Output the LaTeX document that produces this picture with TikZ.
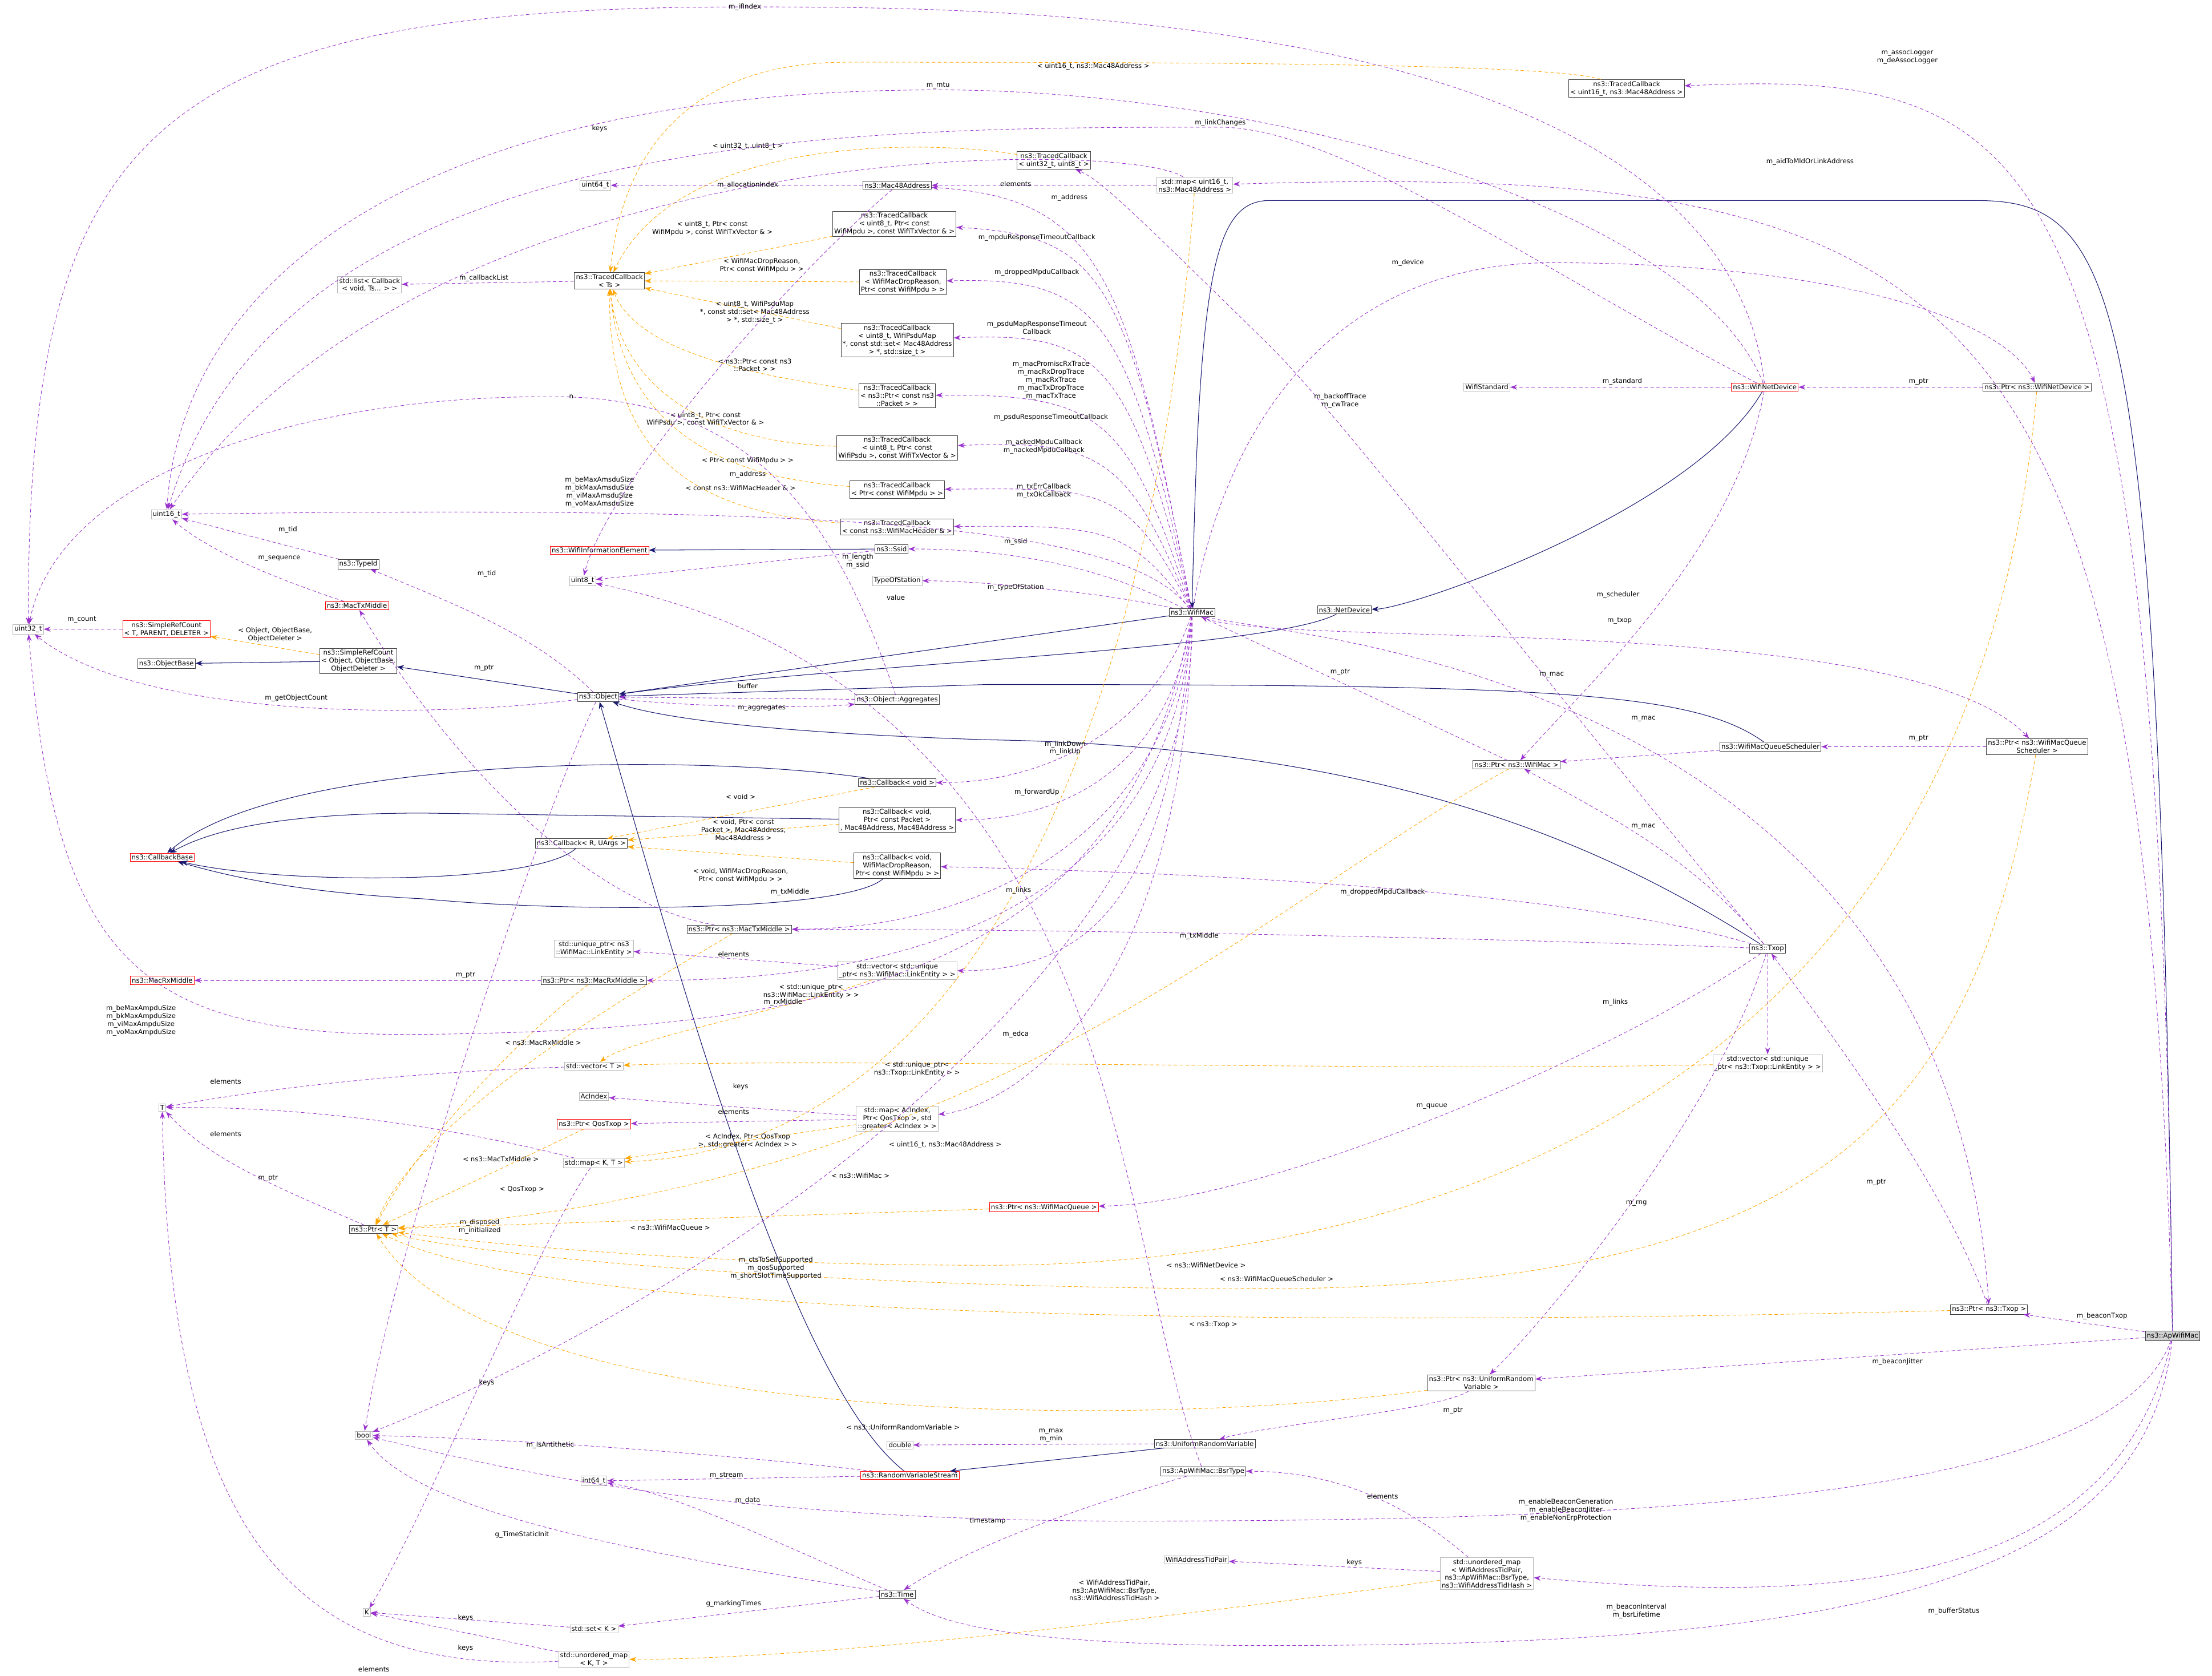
\documentclass[tikz,border=0pt]{standalone}
\usepackage{fontspec}
\setmainfont{DejaVu Sans}
\usetikzlibrary{arrows.meta}
\definecolor{pu}{RGB}{154,50,205}
\definecolor{mb}{RGB}{25,25,112}
\definecolor{or}{RGB}{255,165,0}
\tikzset{
 bx/.style={draw=black!75,fill=white,line width=1pt,inner sep=3pt,align=center,font=\fontsize{13.5}{16}\selectfont},
 gx/.style={bx,draw=gray!55},
 rx/.style={bx,draw=red},
 ax/.style={bx,fill=gray!35},
 lab/.style={font=\fontsize{13.5}{16}\selectfont,align=center,inner sep=1pt},
 u/.style={draw=pu,line width=1pt,dash pattern=on 7pt off 5pt,-{Stealth[length=14pt,width=10pt]}},
 o/.style={draw=or,line width=1pt,dash pattern=on 7pt off 5pt,-{Stealth[length=14pt,width=10pt]}},
 ih/.style={draw=mb,line width=1.2pt,-{Stealth[length=14pt,width=11pt]}},
}
\begin{document}
\begin{tikzpicture}[x=0.1cm,y=-0.098cm]
\useasboundingbox (0,0) rectangle (1568,1212);
% nodes
\node[gx] (u32) at (20,455) {uint32\_t};
\node[gx] (u16) at (118,372) {uint16\_t};
\node[gx] (u64) at (422,134) {uint64\_t};
\node[gx] (lst) at (262,206) {std::list< Callback\\< void, Ts... > >};
\node[bx] (tcts) at (432,203) {ns3::TracedCallback\\< Ts >};
\node[bx] (mac48) at (636,134) {ns3::Mac48Address};
\node[bx] (tc32) at (747,116) {ns3::TracedCallback\\< uint32\_t, uint8\_t >};
\node[gx] (m16) at (847,134) {std::map< uint16\_t,\\ ns3::Mac48Address >};
\node[bx] (tc16) at (1153,64) {ns3::TracedCallback\\< uint16\_t, ns3::Mac48Address >};
\node[bx] (tca) at (634,162) {ns3::TracedCallback\\< uint8\_t, Ptr< const\\ WifiMpdu >, const WifiTxVector \& >};
\node[bx] (tcb) at (640,204) {ns3::TracedCallback\\< WifiMacDropReason,\\ Ptr< const WifiMpdu > >};
\node[bx] (tcc) at (636,246) {ns3::TracedCallback\\< uint8\_t, WifiPsduMap\\ *, const std::set< Mac48Address\\ > *, std::size\_t >};
\node[bx] (tcd) at (636,286) {ns3::TracedCallback\\< ns3::Ptr< const ns3\\::Packet > >};
\node[bx] (tce) at (636,324) {ns3::TracedCallback\\< uint8\_t, Ptr< const\\ WifiPsdu >, const WifiTxVector \& >};
\node[bx] (tcf) at (636,354) {ns3::TracedCallback\\< Ptr< const WifiMpdu > >};
\node[bx] (tcg) at (636,381) {ns3::TracedCallback\\< const ns3::WifiMacHeader \& >};
\node[rx] (wie) at (425,398) {ns3::WifiInformationElement};
\node[bx] (ssid) at (632,397) {ns3::Ssid};
\node[gx] (u8) at (413,420) {uint8\_t};
\node[gx] (tos) at (636,420) {TypeOfStation};
\node[bx] (tid) at (254,408) {ns3::TypeId};
\node[rx] (mtx) at (253,438) {ns3::MacTxMiddle};
\node[rx] (srt) at (118,455) {ns3::SimpleRefCount\\< T, PARENT, DELETER >};
\node[bx] (sro) at (254,478) {ns3::SimpleRefCount\\< Object, ObjectBase,\\ ObjectDeleter >};
\node[bx] (obase) at (118,480) {ns3::ObjectBase};
\node[bx] (obj) at (424,504) {ns3::Object};
\node[bx] (agg) at (636,506) {ns3::Object::Aggregates};
\node[bx] (wmac) at (845,443) {ns3::WifiMac};
\node[bx] (nd) at (953,441) {ns3::NetDevice};
\node[gx] (wstd) at (1054,280) {WifiStandard};
\node[rx] (wnd) at (1251,280) {ns3::WifiNetDevice};
\node[bx] (pwnd) at (1444,280) {ns3::Ptr< ns3::WifiNetDevice >};
\node[bx] (cbv) at (636,566) {ns3::Callback< void >};
\node[rx] (cbb) at (115,620) {ns3::CallbackBase};
\node[bx] (cbr) at (412,610) {ns3::Callback< R, UArgs >};
\node[bx] (cbp) at (636,593) {ns3::Callback< void,\\ Ptr< const Packet >\\, Mac48Address, Mac48Address >};
\node[bx] (cbd) at (636,626) {ns3::Callback< void,\\ WifiMacDropReason,\\ Ptr< const WifiMpdu > >};
\node[bx] (pmtx) at (524,672) {ns3::Ptr< ns3::MacTxMiddle >};
\node[gx] (uple) at (421,686) {std::unique\_ptr< ns3\\::WifiMac::LinkEntity >};
\node[gx] (vle) at (636,702) {std::vector< std::unique\\\_ptr< ns3::WifiMac::LinkEntity > >};
\node[rx] (mrx) at (115,709) {ns3::MacRxMiddle};
\node[bx] (pmrx) at (421,709) {ns3::Ptr< ns3::MacRxMiddle >};
\node[gx] (vt) at (421,771) {std::vector< T >};
\node[gx] (aci) at (421,793) {AcIndex};
\node[gx] (mac) at (636,809) {std::map< AcIndex,\\ Ptr< QosTxop >, std\\::greater< AcIndex > >};
\node[rx] (pqos) at (421,813) {ns3::Ptr< QosTxop >};
\node[gx] (mkt) at (421,841) {std::map< K, T >};
\node[gx] (T) at (115,801) {T};
\node[bx] (pt) at (265,889) {ns3::Ptr< T >};
\node[rx] (pwmq) at (740,873) {ns3::Ptr< ns3::WifiMacQueue >};
\node[bx] (pwm) at (1075,553) {ns3::Ptr< ns3::WifiMac >};
\node[bx] (wmqs) at (1255,540) {ns3::WifiMacQueueScheduler};
\node[bx] (pwmqs) at (1444,540) {ns3::Ptr< ns3::WifiMacQueue\\ Scheduler >};
\node[bx] (txop) at (1253,686) {ns3::Txop};
\node[gx] (vtle) at (1253,769) {std::vector< std::unique\\\_ptr< ns3::Txop::LinkEntity > >};
\node[bx] (ptxop) at (1410,947) {ns3::Ptr< ns3::Txop >};
\node[ax] (ap) at (1540,966) {ns3::ApWifiMac};
\node[bx] (purv) at (1050,1000) {ns3::Ptr< ns3::UniformRandom\\ Variable >};
\node[bx] (urv) at (854,1044) {ns3::UniformRandomVariable};
\node[gx] (dbl) at (638,1045) {double};
\node[gx] (bool) at (258,1038) {bool};
\node[rx] (rvs) at (645,1067) {ns3::RandomVariableStream};
\node[gx] (i64) at (421,1071) {int64\_t};
\node[bx] (bsr) at (853,1064) {ns3::ApWifiMac::BsrType};
\node[bx] (time) at (636,1153) {ns3::Time};
\node[gx] (watp) at (848,1128) {WifiAddressTidPair};
\node[gx] (umw) at (1054,1138) {std::unordered\_map\\< WifiAddressTidPair,\\ ns3::ApWifiMac::BsrType,\\ ns3::WifiAddressTidHash >};
\node[gx] (K) at (260,1166) {K};
\node[gx] (setk) at (421,1178) {std::set< K >};
\node[gx] (umkt) at (421,1200) {std::unordered\_map\\< K, T >};
% inheritance
\draw[ih] (ssid) -- (wie);
\draw[ih] (sro) -- (obase);
\draw[ih] (obj) -- (sro);
\draw[ih] (wmac) -- (obj);
\draw[ih] (nd) .. controls (900,470) and (600,480) .. (obj);
\draw[ih] (wnd) .. controls (1200,370) and (1000,440) .. (nd);
\draw[ih] (ap) .. controls (1530,200) and (1500,145) .. (1400,145) -- (900,145) .. controls (860,145) and (850,200) .. (wmac);
\draw[ih] (wmqs) .. controls (1200,500) and (1100,495) .. (700,495) -- (obj);
\draw[ih] (txop) .. controls (1150,620) and (1000,540) .. (700,535) .. controls (550,530) and (470,520) .. (obj);
\draw[ih] (rvs) .. controls (560,1000) and (480,700) .. (obj);
\draw[ih] (urv) -- (rvs);
\draw[ih] (cbv) .. controls (500,545) and (200,545) .. (cbb);
\draw[ih] (cbp) -- (300,588) .. controls (200,588) and (150,600) .. (cbb);
\draw[ih] (cbr) .. controls (380,640) and (200,640) .. (cbb);
\draw[ih] (cbd) .. controls (600,660) and (400,660) .. (300,650) .. controls (200,645) and (150,630) .. (cbb);
% template instantiations (orange)
\draw[o] (tc16) .. controls (1100,45) and (800,45) .. (600,45) .. controls (480,45) and (440,120) .. (tcts) node[lab] at (775,48) {< uint16\_t, ns3::Mac48Address >};
\draw[o] (tc32) .. controls (650,100) and (480,100) .. (tcts) node[lab] at (530,106) {< uint32\_t, uint8\_t >};
\draw[o] (tca) -- (tcts) node[lab] at (505,165) {< uint8\_t, Ptr< const\\ WifiMpdu >, const WifiTxVector \& >};
\draw[o] (tcb) -- (tcts) node[lab] at (540,192) {< WifiMacDropReason,\\ Ptr< const WifiMpdu > >};
\draw[o] (tcc) -- (tcts) node[lab] at (535,226) {< uint8\_t, WifiPsduMap\\ *, const std::set< Mac48Address\\ > *, std::size\_t >};
\draw[o] (tcd) .. controls (520,270) and (450,250) .. (tcts) node[lab] at (535,264) {< ns3::Ptr< const ns3\\ ::Packet > >};
\draw[o] (tce) .. controls (500,320) and (440,280) .. (tcts) node[lab] at (500,303) {< uint8\_t, Ptr< const\\ WifiPsdu >, const WifiTxVector \& >};
\draw[o] (tcf) .. controls (500,345) and (440,300) .. (tcts) node[lab] at (530,333) {< Ptr< const WifiMpdu > >};
\draw[o] (tcg) .. controls (480,370) and (432,320) .. (tcts) node[lab] at (525,353) {< const ns3::WifiMacHeader \& >};
\draw[o] (sro) -- (srt) node[lab] at (195,459) {< Object, ObjectBase,\\ ObjectDeleter >};
\draw[o] (cbv) -- (cbr) node[lab] at (525,576) {< void >};
\draw[o] (cbp) -- (cbr) node[lab] at (527,600) {< void, Ptr< const\\ Packet >, Mac48Address,\\ Mac48Address >};
\draw[o] (cbd) -- (cbr) node[lab] at (525,633) {< void, WifiMacDropReason,\\ Ptr< const WifiMpdu > >};
\draw[o] (vle) .. controls (560,730) and (450,750) .. (vt) node[lab] at (575,717) {< std::unique\_ptr<\\ ns3::WifiMac::LinkEntity > >};
\draw[o] (vtle) .. controls (1000,775) and (600,765) .. (vt) node[lab] at (650,773) {< std::unique\_ptr<\\ ns3::Txop::LinkEntity > >};
\draw[o] (mac) -- (mkt) node[lab] at (530,825) {< AcIndex, Ptr< QosTxop\\ >, std::greater< AcIndex > >};
\draw[o] (m16) .. controls (820,500) and (700,830) .. (mkt) node[lab] at (670,828) {< uint16\_t, ns3::Mac48Address >};
\draw[o] (umw) .. controls (900,1160) and (600,1200) .. (umkt) node[lab] at (790,1150) {< WifiAddressTidPair,\\ ns3::ApWifiMac::BsrType,\\ ns3::WifiAddressTidHash >};
\draw[o] (pmrx) .. controls (380,740) and (300,820) .. (pt) node[lab] at (385,754) {< ns3::MacRxMiddle >};
\draw[o] (pmtx) .. controls (480,700) and (300,800) .. (pt) node[lab] at (355,838) {< ns3::MacTxMiddle >};
\draw[o] (pqos) -- (pt) node[lab] at (370,860) {< QosTxop >};
\draw[o] (pwm) .. controls (900,650) and (700,860) .. (pt) node[lab] at (610,850) {< ns3::WifiMac >};
\draw[o] (pwmq) -- (pt) node[lab] at (475,888) {< ns3::WifiMacQueue >};
\draw[o] (pwnd) .. controls (1400,800) and (1000,915) .. (700,915) .. controls (500,915) and (350,900) .. (pt) node[lab] at (855,915) {< ns3::WifiNetDevice >};
\draw[o] (pwmqs) .. controls (1400,800) and (1300,930) .. (900,932) .. controls (600,932) and (350,910) .. (pt) node[lab] at (905,925) {< ns3::WifiMacQueueScheduler >};
\draw[o] (ptxop) .. controls (1000,958) and (400,960) .. (pt) node[lab] at (860,958) {< ns3::Txop >};
\draw[o] (purv) .. controls (800,1035) and (350,1030) .. (pt) node[lab] at (640,1032) {< ns3::UniformRandomVariable >};
% usage (purple)
\draw[u] (wnd) .. controls (1220,5) and (700,5) .. (528,5) .. controls (100,5) and (20,100) .. (u32) node[lab] at (528,5) {m\_ifIndex};
\draw[u] (srt) -- (u32) node[lab] at (58,448) {m\_count};
\draw[u] (obj) .. controls (300,520) and (100,520) .. (u32) node[lab] at (210,505) {m\_getObjectCount};
\draw[u] (wmac) .. controls (800,700) and (600,745) .. (300,748) .. controls (100,750) and (40,700) .. (u32) node[lab] at (100,738) {m\_beMaxAmpduSize\\m\_bkMaxAmpduSize\\m\_viMaxAmpduSize\\m\_voMaxAmpduSize};
\draw[u] (agg) .. controls (600,400) and (550,290) .. (400,287) .. controls (200,284) and (40,350) .. (u32) node[lab] at (405,287) {n};
\draw[u] (tid) -- (u16) node[lab] at (204,383) {m\_tid};
\draw[u] (mtx) .. controls (200,420) and (150,400) .. (u16) node[lab] at (198,404) {m\_sequence};
\draw[u] (wnd) .. controls (1200,150) and (900,65) .. (665,65) .. controls (300,65) and (130,200) .. (u16) node[lab] at (665,62) {m\_mtu};
\draw[u] (wnd) .. controls (1100,200) and (950,92) .. (865,92) .. controls (600,92) and (200,92) .. (u16) node[lab] at (865,89) {m\_linkChanges};
\draw[u] (m16) .. controls (800,100) and (300,95) .. (u16) node[lab] at (425,93) {keys};
\draw[u] (wmac) .. controls (800,380) and (600,365) .. (u16) node[lab] at (425,356) {m\_beMaxAmsduSize\\m\_bkMaxAmsduSize\\m\_viMaxAmsduSize\\m\_voMaxAmsduSize};
\draw[u] (mac48) -- (u64) node[lab] at (530,134) {m\_allocationIndex};
\draw[u] (m16) -- (mac48) node[lab] at (720,133) {elements};
\draw[u] (wmac) .. controls (800,200) and (780,143) .. (mac48) node[lab] at (758,143) {m\_address};
\draw[u] (txop) .. controls (1100,500) and (950,300) .. (900,250) .. controls (800,150) and (780,130) .. (tc32) node[lab] at (950,290) {m\_backoffTrace\\m\_cwTrace};
\draw[u] (ap) .. controls (1520,200) and (1400,117) .. (m16) node[lab] at (1283,117) {m\_aidToMldOrLinkAddress};
\draw[u] (ap) .. controls (1530,100) and (1450,50) .. (tc16) node[lab] at (1352,41) {m\_assocLogger\\m\_deAssocLogger};
\draw[u] (tcts) -- (lst) node[lab] at (343,201) {m\_callbackList};
\draw[u] (wmac) .. controls (800,200) and (780,170) .. (tca) node[lab] at (735,172) {m\_mpduResponseTimeoutCallback};
\draw[u] (wmac) .. controls (800,230) and (780,200) .. (tcb) node[lab] at (735,197) {m\_droppedMpduCallback};
\draw[u] (wmac) .. controls (800,260) and (780,240) .. (tcc) node[lab] at (735,237) {m\_psduMapResponseTimeout\\Callback};
\draw[u] (wmac) .. controls (800,300) and (780,285) .. (tcd) node[lab] at (745,275) {m\_macPromiscRxTrace\\m\_macRxDropTrace\\m\_macRxTrace\\m\_macTxDropTrace\\m\_macTxTrace};
\draw[u] (wmac) .. controls (800,330) and (780,318) .. (tce) node[lab] at (745,302) {m\_psduResponseTimeoutCallback};
\draw[u] (wmac) .. controls (800,350) and (780,353) .. (tcf) node[lab] at (740,323) {m\_ackedMpduCallback\\m\_nackedMpduCallback};
\draw[u] (wmac) .. controls (800,380) and (780,380) .. (tcg) node[lab] at (740,355) {m\_txErrCallback\\m\_txOkCallback};
\draw[u] (wmac) .. controls (800,420) and (740,397) .. (ssid) node[lab] at (720,392) {m\_ssid};
\draw[u] (wmac) .. controls (790,430) and (700,420) .. (tos) node[lab] at (720,425) {m\_typeOfStation};
\draw[u] (ssid) -- (u8) node[lab] at (608,406) {m\_length\\m\_ssid};
\draw[u] (mac48) .. controls (560,200) and (430,350) .. (u8) node[lab] at (530,343) {m\_address};
\draw[u] (bsr) .. controls (790,900) and (800,500) .. (u8) node[lab] at (635,432) {value};
\draw[u] (wmac) .. controls (820,520) and (750,566) .. (cbv) node[lab] at (755,541) {m\_linkDown\\m\_linkUp};
\draw[u] (wmac) .. controls (830,550) and (760,593) .. (cbp) node[lab] at (735,573) {m\_forwardUp};
\draw[u] (wmac) .. controls (830,600) and (700,672) .. (pmtx) node[lab] at (560,645) {m\_txMiddle};
\draw[u] (wmac) .. controls (830,640) and (780,702) .. (vle) node[lab] at (722,644) {m\_links};
\draw[u] (wmac) .. controls (830,680) and (600,709) .. (pmrx) node[lab] at (555,725) {m\_rxMiddle};
\draw[u] (wmac) .. controls (840,720) and (720,800) .. (mac) node[lab] at (720,748) {m\_edca};
\draw[u] (wmac) .. controls (900,470) and (1350,440) .. (pwmqs) node[lab] at (1147,430) {m\_scheduler};
\draw[u] (wmac) .. controls (900,460) and (1380,480) .. (ptxop) node[lab] at (1148,449) {m\_txop};
\draw[u] (wmac) .. controls (850,700) and (500,940) .. (bool) node[lab] at (550,917) {m\_ctsToSelfSupported\\m\_qosSupported\\m\_shortSlotTimeSupported};
\draw[u] (wmac) .. controls (870,300) and (950,190) .. (1100,190) .. controls (1300,190) and (1420,230) .. (pwnd) node[lab] at (998,190) {m\_device};
\draw[u] (wnd) -- (wstd) node[lab] at (1150,276) {m\_standard};
\draw[u] (pwnd) -- (wnd) node[lab] at (1360,276) {m\_ptr};
\draw[u] (wnd) .. controls (1230,400) and (1120,500) .. (pwm) node[lab] at (1100,488) {m\_mac};
\draw[u] (wmqs) -- (pwm) node[lab] at (1165,520) {m\_mac};
\draw[u] (txop) .. controls (1200,620) and (1140,590) .. (pwm) node[lab] at (1165,598) {m\_mac};
\draw[u] (pwm) -- (wmac) node[lab] at (950,486) {m\_ptr};
\draw[u] (pwmqs) -- (wmqs) node[lab] at (1360,534) {m\_ptr};
\draw[u] (obj) .. controls (380,460) and (330,440) .. (tid) node[lab] at (345,415) {m\_tid};
\draw[u] (agg) -- (obj) node[lab] at (530,496) {buffer};
\draw[u] (obj) .. controls (500,512) and (580,512) .. (agg) node[lab] at (540,512) {m\_aggregates};
\draw[u] (obj) .. controls (380,600) and (280,900) .. (bool) node[lab] at (340,887) {m\_disposed\\m\_initialized};
\draw[u] (pmtx) .. controls (400,650) and (300,520) .. (mtx) node[lab] at (343,483) {m\_ptr};
\draw[u] (pmrx) -- (mrx) node[lab] at (330,705) {m\_ptr};
\draw[u] (vle) -- (uple) node[lab] at (520,690) {elements};
\draw[u] (mac) -- (aci) node[lab] at (525,786) {keys};
\draw[u] (mac) -- (pqos) node[lab] at (520,804) {elements};
\draw[u] (vt) .. controls (300,775) and (200,785) .. (T) node[lab] at (160,782) {elements};
\draw[u] (mkt) .. controls (300,810) and (200,800) .. (T) node[lab] at (160,820) {elements};
\draw[u] (pt) .. controls (200,860) and (150,840) .. (T) node[lab] at (190,852) {m\_ptr};
\draw[u] (mkt) .. controls (380,900) and (300,1100) .. (K) node[lab] at (345,1000) {keys};
\draw[u] (setk) -- (K) node[lab] at (330,1170) {keys};
\draw[u] (umkt) -- (K) node[lab] at (330,1192) {keys};
\draw[u] (umkt) .. controls (200,1212) and (120,1100) .. (T) node[lab] at (265,1207) {elements};
\draw[u] (txop) .. controls (1100,640) and (800,630) .. (cbd) node[lab] at (980,645) {m\_droppedMpduCallback};
\draw[u] (txop) .. controls (1100,680) and (800,672) .. (pmtx) node[lab] at (850,677) {m\_txMiddle};
\draw[u] (txop) -- (vtle) node[lab] at (1145,725) {m\_links};
\draw[u] (txop) .. controls (1150,760) and (900,870) .. (pwmq) node[lab] at (1015,800) {m\_queue};
\draw[u] (txop) .. controls (1220,800) and (1100,950) .. (purv) node[lab] at (1160,870) {m\_rng};
\draw[u] (ptxop) .. controls (1380,860) and (1300,750) .. (txop) node[lab] at (1330,855) {m\_ptr};
\draw[u] (ap) -- (ptxop) node[lab] at (1490,952) {m\_beaconTxop};
\draw[u] (ap) -- (purv) node[lab] at (1345,985) {m\_beaconJitter};
\draw[u] (purv) .. controls (1020,1020) and (900,1030) .. (urv) node[lab] at (1030,1020) {m\_ptr};
\draw[u] (urv) -- (dbl) node[lab] at (745,1038) {m\_max\\m\_min};
\draw[u] (rvs) -- (i64) node[lab] at (515,1067) {m\_stream};
\draw[u] (rvs) .. controls (500,1050) and (350,1040) .. (bool) node[lab] at (390,1045) {m\_isAntithetic};
\draw[u] (time) .. controls (560,1120) and (480,1080) .. (i64) node[lab] at (530,1085) {m\_data};
\draw[u] (time) .. controls (500,1130) and (300,1100) .. (bool) node[lab] at (370,1110) {g\_TimeStaticInit};
\draw[u] (time) -- (setk) node[lab] at (520,1160) {g\_markingTimes};
\draw[u] (ap) .. controls (1520,1150) and (1300,1190) .. (900,1190) .. controls (700,1190) and (660,1170) .. (time) node[lab] at (1160,1165) {m\_beaconInterval\\m\_bsrLifetime};
\draw[u] (bsr) .. controls (800,1080) and (700,1110) .. (time) node[lab] at (700,1100) {timestamp};
\draw[u] (ap) .. controls (1500,1080) and (1200,1100) .. (800,1100) .. controls (500,1100) and (350,1060) .. (bool) node[lab] at (1110,1092) {m\_enableBeaconGeneration\\m\_enableBeaconJitter\\m\_enableNonErpProtection};
\draw[u] (ap) .. controls (1500,1150) and (1300,1160) .. (umw) node[lab] at (1385,1165) {m\_bufferStatus};
\draw[u] (umw) -- (watp) node[lab] at (960,1130) {keys};
\draw[u] (umw) .. controls (1000,1090) and (950,1064) .. (bsr) node[lab] at (980,1082) {elements};
\end{tikzpicture}
\end{document}
